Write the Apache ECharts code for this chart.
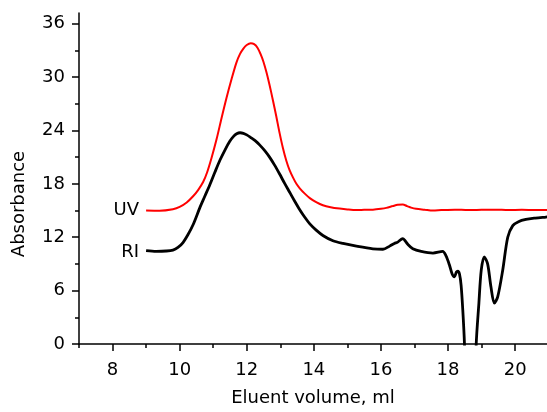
<!DOCTYPE html>
<html>
<head>
<meta charset="utf-8">
<script src="https://cdn.jsdelivr.net/npm/echarts@6/dist/echarts.min.js"></script>
<style>
  html, body { margin: 0; padding: 0; background: #fff; }
  #chart { width: 547px; height: 412px; }
</style>
</head>
<body>
<div id="chart"></div>
<script>
// elution volumes (ml) and detector signals
const uvVolume = [9.0, 9.4, 9.8, 10.0, 10.21, 10.4, 10.55, 10.7, 10.82, 10.95, 11.1, 11.25, 11.4, 11.55, 11.69, 11.8, 11.9, 12.0, 12.12, 12.22, 12.32, 12.41, 12.5, 12.59, 12.68, 12.78, 12.88, 12.98, 13.08, 13.18, 13.28, 13.38, 13.48, 13.58, 13.73, 13.88, 14.07, 14.27, 14.5, 14.77, 15.0, 15.27, 15.5, 15.76, 16.0, 16.16, 16.35, 16.5, 16.65, 16.78, 16.9, 17.05, 17.3, 17.55, 17.8, 18.2, 18.6, 19.0, 19.4, 19.8, 20.2, 20.6, 21.0]
const uvSignal = [15.0, 14.98, 15.15, 15.4, 15.9, 16.6, 17.3, 18.2, 19.3, 20.9, 23.0, 25.4, 27.7, 29.8, 31.6, 32.6, 33.2, 33.6, 33.8, 33.7, 33.3, 32.6, 31.7, 30.5, 29.1, 27.4, 25.6, 23.7, 22.0, 20.6, 19.5, 18.7, 18.0, 17.5, 16.9, 16.4, 15.95, 15.6, 15.38, 15.22, 15.12, 15.05, 15.08, 15.1, 15.2, 15.3, 15.5, 15.65, 15.68, 15.5, 15.33, 15.2, 15.1, 15.0, 15.05, 15.1, 15.05, 15.08, 15.1, 15.05, 15.08, 15.05, 15.05]

const riVolume = [9.0, 9.3, 9.6, 9.8, 9.95, 10.1, 10.25, 10.4, 10.6, 10.75, 10.9, 11.05, 11.2, 11.35, 11.49, 11.6, 11.7, 11.8, 11.9, 12.0, 12.12, 12.25, 12.39, 12.53, 12.68, 12.83, 12.98, 13.13, 13.28, 13.43, 13.58, 13.73, 13.88, 14.07, 14.27, 14.57, 14.87, 15.27, 15.76, 16.06, 16.26, 16.4, 16.5, 16.65, 16.72, 16.8, 16.95, 17.2, 17.55, 17.84, 17.94, 18.04, 18.12, 18.19, 18.25, 18.29, 18.34, 18.39, 18.44, 18.49, 18.6, 18.72, 18.84, 18.92, 18.99, 19.08, 19.18, 19.28, 19.38, 19.48, 19.63, 19.78, 19.93, 20.1, 20.32, 20.6, 20.92, 21.0]
const riSignal = [10.5, 10.42, 10.45, 10.55, 10.85, 11.4, 12.3, 13.4, 15.3, 16.6, 17.9, 19.3, 20.65, 21.8, 22.75, 23.3, 23.62, 23.74, 23.68, 23.5, 23.2, 22.85, 22.35, 21.75, 21.0, 20.1, 19.1, 18.05, 17.05, 16.05, 15.1, 14.25, 13.5, 12.8, 12.2, 11.6, 11.3, 11.0, 10.7, 10.65, 11.0, 11.3, 11.45, 11.85, 11.6, 11.2, 10.7, 10.4, 10.22, 10.4, 9.9, 8.9, 7.9, 7.55, 8.1, 8.2, 7.9, 6.6, 3.8, 0, -14, -14, 0, 4.6, 8.3, 9.8, 9.0, 6.4, 4.6, 5.3, 8.3, 12.0, 13.3, 13.75, 14.0, 14.15, 14.27, 14.3]

const xMajorTicks = [8, 10, 12, 14, 16, 18, 20]
const xMinorTicks = [7, 9, 11, 13, 15, 17, 19]
const yMajorTicks = [0, 6, 12, 18, 24, 30, 36]
const yMinorTicks = [3, 9, 15, 21, 27, 33]

const FONT = 'DejaVu Sans'
const zip = (xs, ys) => xs.map((x, i) => [x, ys[i]])

const axisLineStyle = { color: '#000', width: 1.5 }
const labelStyle = { fontFamily: FONT, fontSize: 18, color: '#000' }

const chart = echarts.init(document.getElementById('chart'))

chart.setOption({
  animation: false,
  backgroundColor: '#fff',
  grid: { left: 79, right: 0, top: 13, bottom: 64 },
  xAxis: [
    {
      type: 'value',
      min: 7,
      max: 20.95,
      position: 'bottom',
      name: 'Eluent volume, ml',
      nameLocation: 'middle',
      nameGap: 45,
      nameTextStyle: labelStyle,
      axisLine: { onZero: false, lineStyle: axisLineStyle },
      axisTick: { customValues: xMajorTicks, length: 7, lineStyle: axisLineStyle },
      axisLabel: { customValues: xMajorTicks, margin: 17, ...labelStyle },
      splitLine: { show: false },
    },
    {
      type: 'value',
      min: 7,
      max: 20.95,
      position: 'bottom',
      axisLine: { show: false, onZero: false },
      axisTick: { customValues: xMinorTicks, length: 4, lineStyle: axisLineStyle },
      axisLabel: { show: false },
      splitLine: { show: false },
    },
  ],
  yAxis: [
    {
      type: 'value',
      min: 0,
      max: 37.2,
      position: 'left',
      name: 'Absorbance',
      nameLocation: 'middle',
      nameGap: 51,
      nameTextStyle: { ...labelStyle, padding: [0, 51, 0, 0] },
      axisLine: { show: true, onZero: false, lineStyle: axisLineStyle },
      axisTick: { customValues: yMajorTicks, length: 7, lineStyle: axisLineStyle },
      axisLabel: { customValues: yMajorTicks, margin: 14, ...labelStyle },
      splitLine: { show: false },
    },
    {
      type: 'value',
      min: 0,
      max: 37.2,
      position: 'left',
      axisLine: { show: false, onZero: false },
      axisTick: { customValues: yMinorTicks, length: 4, lineStyle: axisLineStyle },
      axisLabel: { show: false },
      splitLine: { show: false },
    },
  ],
  series: [
    {
      name: 'UV',
      type: 'line',
      data: zip(uvVolume, uvSignal),
      showSymbol: false,
      smooth: 0.3,
      lineStyle: { color: '#ff0000', width: 2 },
      z: 3,
    },
    {
      name: 'RI',
      type: 'line',
      data: zip(riVolume, riSignal),
      showSymbol: false,
      smooth: 0.3,
      lineStyle: { color: '#000', width: 2.8 },
      z: 2,
    },
    {
      // trace names at the start of each curve
      type: 'scatter',
      symbolSize: 0,
      silent: true,
      itemStyle: { opacity: 1 },
      data: [
        { value: [uvVolume[0], uvSignal[0]], label: { formatter: 'UV' } },
        { value: [riVolume[0], riSignal[0]], label: { formatter: 'RI', offset: [0, 2] } },
      ],
      label: { show: true, position: 'left', distance: 7, ...labelStyle },
    },
  ],
})
</script>
</body>
</html>
